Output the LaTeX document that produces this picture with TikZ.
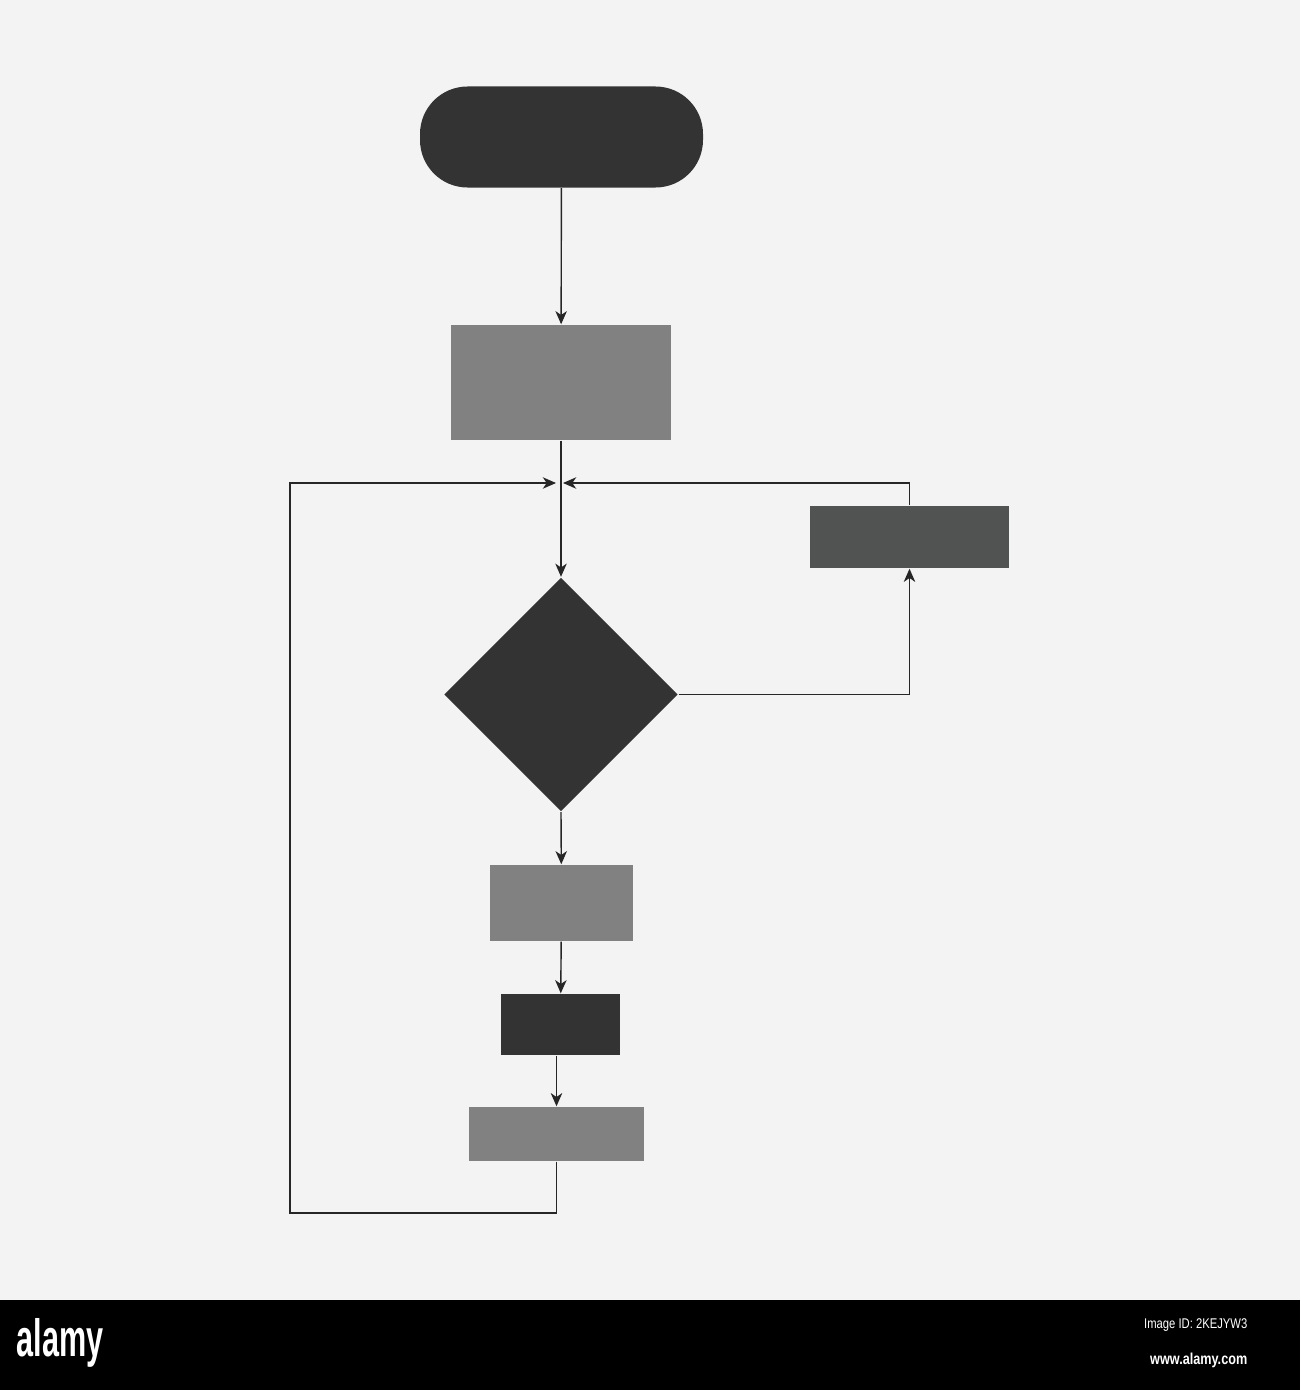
\documentclass[tikz,border=0pt]{standalone}
\usepackage{fontspec}
\setmainfont{Liberation Sans}
\usetikzlibrary{positioning,shapes.geometric,arrows.meta,calc}
\tikzset{every picture/.style={>={Stealth[length=7.5pt,width=6.5pt,inset=2.2pt]},thick}}
\definecolor{bgpaper}{HTML}{F2F3F2}
\definecolor{darkfill}{HTML}{333333}
\definecolor{midfill}{HTML}{808180}
\definecolor{slatefill}{HTML}{515352}
\tikzset{darkbox/.style={rectangle,fill=darkfill,inner sep=0pt}}
\tikzset{greybox/.style={rectangle,fill=midfill,inner sep=0pt}}
\tikzset{flow/.style={draw=black!85,->}}

\begin{document}
\begin{tikzpicture}
      % paper and bottom strip
      \fill [bgpaper] (0,0) rectangle (26,-27.8);
      \fill [black] (0,-26) rectangle (26,-27.8);
      \node [white,font=\bfseries\Huge,xscale=0.7,yscale=1.2] (brand) at (1.2,-26.85) {alamy};
      \node [white,font=\footnotesize,xscale=0.8,anchor=east] (imgid) at (25.05,-26.5) {Image ID: 2KEJYW3};
      \node [white,font=\small\bfseries,xscale=0.8,anchor=east] (site) at (25.05,-27.2) {www.alamy.com};
      % shapes
      \node [darkbox,rounded corners=0.95cm,minimum width=5.66cm,minimum height=2.02cm] (start) at (11.23,-2.74) {};
      \node [greybox,minimum width=4.4cm,minimum height=2.3cm] (input) at (11.22,-7.65) {};
      \node [diamond,fill=darkfill,inner sep=0pt,minimum width=4.68cm,minimum height=4.68cm] (check) at (11.22,-13.89) {};
      \node [rectangle,fill=slatefill,inner sep=0pt,minimum width=3.98cm,minimum height=1.24cm] (retry) at (18.19,-10.74) {};
      \node [greybox,minimum width=2.86cm,minimum height=1.52cm] (stepA) at (11.23,-18.06) {};
      \node [darkbox,minimum width=2.38cm,minimum height=1.22cm] (stepB) at (11.21,-20.49) {};
      \node [greybox,minimum width=3.5cm,minimum height=1.08cm] (stepC) at (11.13,-22.68) {};
      % junction points
      \coordinate (join) at (11.22,-9.66);
      \coordinate (joinL) at (11.12,-9.66);
      \coordinate (joinR) at (11.26,-9.66);
      \coordinate (loopB) at (5.8,-24.26);
      % connectors
      \draw [flow] (start) -- (input);
      \draw [draw=black!85] (input) -- (join);
      \draw [flow] (join) -- (check.north);
      \draw [flow] (check.east) -| (retry.south);
      \draw [flow] (retry.north) |- (joinR);
      \draw [flow] (check.south) -- (stepA);
      \draw [flow] (stepA) -- (stepB);
      \draw [flow] (stepC.north |- stepB.south) -- (stepC.north);
      \draw [flow] (stepC.south) |- (loopB) |- (joinL);
\end{tikzpicture}
\end{document}
